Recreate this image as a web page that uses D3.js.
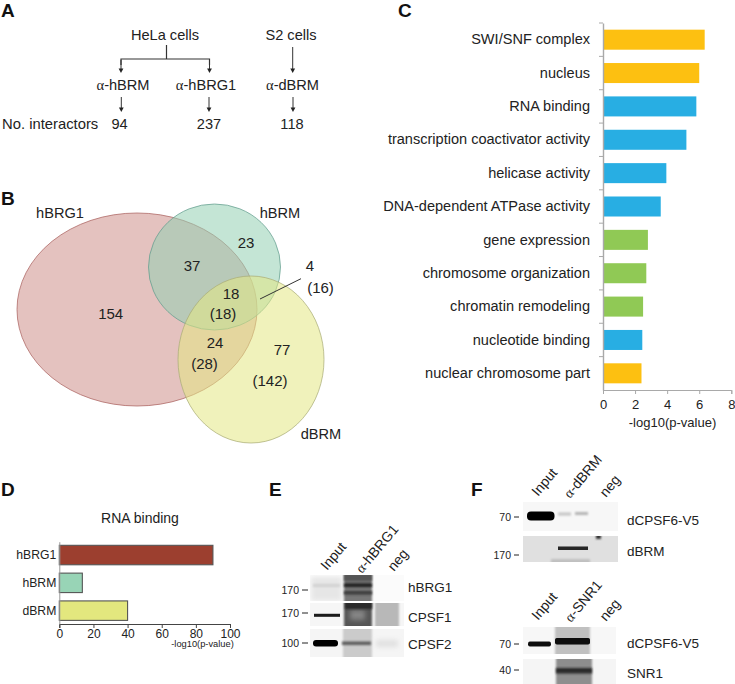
<!DOCTYPE html>
<html><head><meta charset="utf-8">
<script src="https://cdnjs.cloudflare.com/ajax/libs/d3/7.8.5/d3.min.js"></script>
<style>
html,body{margin:0;padding:0;background:#fff}
svg{display:block}
text{font-family:"Liberation Sans",Arial,sans-serif;fill:#222}
</style></head><body>
<svg id="c" width="735" height="684"></svg>
<script>
// ---- data ----
const cellLines = ["HeLa cells", "S2 cells"];
const antibodies = ["hBRM", "hBRG1", "dBRM"];
const interactors = [94, 237, 118];
const vennSets = ["hBRG1", "hBRM", "dBRM"];
const vennCounts = ["154", "37", "23", "18", "(18)", "24", "(28)", "77", "(142)", "4", "(16)"];
const goTerms = ["SWI/SNF complex","nucleus","RNA binding","transcription coactivator activity","helicase activity","DNA-dependent ATPase activity","gene expression","chromosome organization","chromatin remodeling","nucleotide binding","nuclear chromosome part"];
const goValues = [6.34,6.0,5.82,5.2,3.95,3.6,2.8,2.7,2.5,2.45,2.4];
const goClass = ["cc","cc","mf","mf","mf","mf","bp","bp","bp","mf","cc"];
const goTicks = [0,2,4,6,8];
const rnaSets = ["hBRG1","hBRM","dBRM"];
const rnaValues = [90,13.5,40];
const rnaTicks = [0,20,40,60,80,100];
const blotLanesE = ["Input","α-hBRG1","neg"];
const blotLanesF1 = ["Input","α-dBRM","neg"];
const blotLanesF2 = ["Input","α-SNR1","neg"];

// ---- helpers ----
const svg = d3.select("#c");
const defs = svg.append("defs");
[[0.7,"b06"],[1.3,"b1"],[2.5,"b2"]].forEach(([s,id])=>defs.append("filter").attr("id",id)
  .attr("x","-30%").attr("y","-100%").attr("width","160%").attr("height","300%")
  .append("feGaussianBlur").attr("stdDeviation",s));
function T(x,y,s,o={}){
  const t=svg.append("text").attr("x",x).attr("y",y).attr("font-size",o.size||14.6)
    .attr("text-anchor",o.a||"start").text(s);
  if(o.bold)t.attr("font-weight","bold").style("fill","#111");
  if(o.rot)t.attr("transform",`rotate(${o.rot} ${x} ${y})`);
  return t;
}
function AB(x,y,name,o={}){ // antibody label with a serif alpha
  const t=svg.append("text").attr("x",x).attr("y",y).attr("font-size",o.size||14.6).attr("text-anchor",o.a||"start");
  t.append("tspan").style("font-family","'Liberation Serif'").text("α");
  t.append("tspan").text(name);
  if(o.rot)t.attr("transform",`rotate(${o.rot} ${x} ${y})`);
}
function arrow(x,y0,y1){
  svg.append("line").attr("x1",x).attr("x2",x).attr("y1",y0).attr("y2",y1-3).attr("stroke","#333").attr("stroke-width",1);
  svg.append("path").attr("d",`M${x-2.4},${y1-4.5}L${x+2.4},${y1-4.5}L${x},${y1}Z`).attr("fill","#222");
}

// ---- panel letters ----
[["A",1,17],["B",1,205],["C",398,17],["D",1,496],["E",269,496],["F",471,496]].forEach(d=>T(d[1],d[2],d[0],{size:19,bold:true}));

// ---- A ----
T(165,40,cellLines[0],{a:"middle"});
T(291,40,cellLines[1],{a:"middle"});
svg.append("path").attr("d","M166.5,45V59M121,65V59H209.5V65").attr("fill","none").attr("stroke","#333").attr("stroke-width",1.2);
arrow(121,60,73);arrow(209.5,60,73);arrow(292.7,47,73);
[123,206,292.5].forEach((x,i)=>AB(x,90,"-"+antibodies[i],{a:"middle"}));
arrow(121.3,97,112);arrow(209,97,112);arrow(293,97,112);
T(2,129,"No. interactors",{size:14.8});
[119.5,209,292].forEach((x,i)=>T(x,129,interactors[i],{a:"middle"}));

// ---- B ----
const venn = svg.append("g");
const vennColors={hBRG1:["#cd8f8b","#a85f5c"],hBRM:["#93d0b2","#5f9a8c"],dBRM:["#e3e884","#a9ab77"]};
const vennGeo={hBRG1:[137,309.5,120,96.5],hBRM:[214.5,267,66,63],dBRM:[251,359.5,73,83.5]};
vennSets.forEach(k=>{
  const g=vennGeo[k];
  venn.append("ellipse").attr("cx",g[0]).attr("cy",g[1]).attr("rx",g[2]).attr("ry",g[3])
    .attr("fill",vennColors[k][0]).attr("fill-opacity",0.55)
    .attr("stroke",vennColors[k][1]).attr("stroke-opacity",0.8).attr("stroke-width",0.9);
});
T(60,218,vennSets[0],{a:"middle"});
T(280,218,vennSets[1],{a:"middle"});
T(321,439,vennSets[2],{a:"middle"});
[[110.7,319],[192,271],[246,248],[231,299],[223,319],[215,348],[204.5,369],[282,355],[270,386],[310,271],[320.5,293]]
  .forEach((p,i)=>T(p[0],p[1],vennCounts[i],{a:"middle",size:15}));
svg.append("line").attr("x1",260).attr("y1",299).attr("x2",301).attr("y2",278.7).attr("stroke","#333").attr("stroke-width",1);

// ---- C ----
const gx = d3.scaleLinear().domain([0,8]).range([603,731.3]);
const gy = d3.scaleBand().domain(goTerms).range([23,390]).paddingInner(0.4).paddingOuter(0.2);
const goFill={cc:"#fdc011",mf:"#28aee3",bp:"#90c955"};
const gBand = d3.scaleBand().domain(goTerms).range([23,390]);
svg.selectAll(".go").data(goTerms).join("rect").attr("x",gx(0)).attr("y",d=>gy(d)).attr("width",(d,i)=>gx(goValues[i])-gx(0))
  .attr("height",gy.bandwidth()).attr("fill",(d,i)=>goFill[goClass[i]]);
const gAxX=svg.append("g").attr("transform","translate(0,390)").call(d3.axisBottom(gx).tickValues(goTicks).tickSize(4).tickPadding(6));
gAxX.selectAll("text").attr("font-size",13);
gAxX.selectAll(".domain,line").attr("stroke","#a9a9a9").attr("stroke-width",1);
gAxX.selectAll("text").style("font-family","'Liberation Sans'").style("fill","#222");
const gAxY=svg.append("g").attr("transform","translate(603,0)").call(d3.axisLeft(gBand).tickSize(0).tickPadding(13));
gAxY.selectAll("text").attr("font-size",14.55).style("font-family","'Liberation Sans'").style("fill","#222");
gAxY.selectAll(".domain").attr("stroke","#a9a9a9").attr("stroke-width",1.4);
gBand.domain().forEach(d=>svg.append("line").attr("x1",599).attr("x2",603).attr("y1",gBand(d)).attr("y2",gBand(d)).attr("stroke","#a9a9a9"));
T(672.5,427,"-log10(p-value)",{a:"middle",size:13});

// ---- D ----
const rx = d3.scaleLinear().domain([0,100]).range([59.3,230]);
const ry = d3.scaleBand().domain(rnaSets).range([541.7,624]).paddingInner(0.3).paddingOuter(0.13);
const rnaFill=["#9c3f2f","#98d4b6","#e3e77e"];
svg.selectAll(".rna").data(rnaSets).join("rect").attr("x",rx(0)).attr("y",d=>ry(d)).attr("width",(d,i)=>rx(rnaValues[i])-rx(0))
  .attr("height",ry.bandwidth()).attr("fill",(d,i)=>rnaFill[i]).attr("stroke","#555").attr("stroke-width",1.1);
const rAxX=svg.append("g").attr("transform","translate(0,624)").call(d3.axisBottom(rx).tickValues(rnaTicks).tickSize(4).tickPadding(1));
rAxX.selectAll("text").attr("font-size",12).style("font-family","'Liberation Sans'").style("fill","#222");
rAxX.selectAll(".domain,line").attr("stroke","#444");
const rAxY=svg.append("g").attr("transform","translate(59.3,0)").call(d3.axisLeft(ry).tickSize(0).tickPadding(3));
rAxY.selectAll("text").attr("font-size",12.2).style("font-family","'Liberation Sans'").style("fill","#222");
rAxY.selectAll(".domain").attr("stroke","#999");
T(140,523,"RNA binding",{a:"middle",size:14});
T(202.5,647,"-log10(p-value)",{a:"middle",size:9.3});

// ---- blots ----
let clipN=0;
function blot(x0,x1,y0,y1,bgGray,bands){
  const id="clip"+(clipN++);
  defs.append("clipPath").attr("id",id).append("rect").attr("x",x0).attr("y",y0).attr("width",x1-x0).attr("height",y1-y0);
  const g=svg.append("g").attr("clip-path",`url(#${id})`);
  g.append("rect").attr("x",x0).attr("y",y0).attr("width",x1-x0).attr("height",y1-y0).attr("fill",bgGray);
  bands.forEach(b=>g.append("rect").attr("x",b.x0).attr("y",b.y0).attr("width",b.x1-b.x0).attr("height",b.y1-b.y0)
    .attr("rx",b.r||0).attr("ry",b.r||0).attr("fill",b.c).attr("filter",`url(#${b.f||"b1"})`));
}
// E
blot(310,404,575,601,"#fbfbfb",[
 {x0:311,x1:342,y0:577,y1:601,c:"#e6e6e6",f:"b2"},
 {x0:313,x1:340,y0:584,y1:587,c:"#d2d2d2",f:"b1"},
 {x0:344,x1:372,y0:570,y1:606,c:"#777",f:"b1"},
 {x0:344,x1:372,y0:574,y1:581,c:"#555",f:"b1"},
 {x0:344,x1:372,y0:583.5,y1:587,c:"#1a1a1a",f:"b1"},
 {x0:344,x1:372,y0:591,y1:594.5,c:"#3a3a3a",f:"b1"}]);
blot(310,404,603,626,"#f6f6f6",[
 {x0:314,x1:340,y0:613.8,y1:616.8,c:"#1c1c1c",f:"b06"},
 {x0:344,x1:372,y0:598,y1:631,c:"#555",f:"b1"},
 {x0:350,x1:365,y0:610,y1:620,c:"#858585",f:"b2"},
 {x0:345,x1:372,y0:600,y1:609,c:"#2c2c2c",f:"b1"},
 {x0:375,x1:399,y0:601,y1:629,c:"#b8b8b8",f:"b1"}]);
blot(310,404,629,657,"#f5f5f5",[
 {x0:343,x1:372,y0:625,y1:661,c:"#cbcbcb",f:"b1"},
 {x0:313,x1:338,y0:640,y1:646.5,c:"#000",r:3,f:"b06"},
 {x0:342,x1:371,y0:641.5,y1:645,c:"#5c5c5c",f:"b1"},
 {x0:376,x1:398,y0:640,y1:647,c:"#e0e0e0",f:"b2"}]);
// F top
blot(523,618,502,531,"#f7f7f7",[
 {x0:527,x1:554.5,y0:511.5,y1:520.5,c:"#000",r:4,f:"b06"},
 {x0:558,x1:571,y0:512.5,y1:515.5,c:"#c4c4c4",f:"b1"},
 {x0:575,x1:588,y0:512,y1:515,c:"#b4b4b4",f:"b1"}]);
blot(523,618,536,562,"#e0e0e0",[
 {x0:558,x1:588,y0:546.5,y1:550,c:"#262626",f:"b06"},
 {x0:596,x1:601,y0:534,y1:539,c:"#333",f:"b1"},
 {x0:551,x1:590,y0:559,y1:564,c:"#c0c0c0",f:"b1"}]);
// F bottom
blot(523,616,627,654,"#f7f7f7",[
 {x0:555,x1:590,y0:622,y1:659,c:"#c0c0c0",f:"b1"},
 {x0:528,x1:551,y0:641.5,y1:646.5,c:"#111",r:2,f:"b06"},
 {x0:555,x1:590,y0:638,y1:644.5,c:"#080808",r:2,f:"b06"}]);
blot(523,616,659,684,"#f5f5f5",[
 {x0:556,x1:592,y0:654,y1:690,c:"#8e8e8e",f:"b1"},
 {x0:556,x1:592,y0:668,y1:673.5,c:"#2a2a2a",f:"b1"}]);

// blot labels
const LS=14;
[[327,571],[362,574],[394,572]].forEach((p,i)=> i===1
  ? AB(p[0],p[1],"-hBRG1",{rot:-50,size:LS}) : T(p[0],p[1],blotLanesE[i],{rot:-50,size:LS}));
[[538,497],[570,499],[606,498]].forEach((p,i)=> i===1
  ? AB(p[0],p[1],"-dBRM",{rot:-50,size:LS}) : T(p[0],p[1],blotLanesF1[i],{rot:-50,size:LS}));
[[538,621],[571,623],[606,622]].forEach((p,i)=> i===1
  ? AB(p[0],p[1],"-SNR1",{rot:-50,size:LS}) : T(p[0],p[1],blotLanesF2[i],{rot:-50,size:LS}));
[["hBRG1",408,592],["CPSF1",408,622],["CPSF2",408,649],["dCPSF6-V5",627,525],["dBRM",627,556],["dCPSF6-V5",627,648],["SNR1",627,678]]
  .forEach(d=>T(d[1],d[2],d[0],{size:13.5}));
[["170",590],["170",613],["100",643]].forEach(d=>{T(299,d[1]+4,d[0],{a:"end",size:10.5});svg.append("line").attr("x1",302).attr("x2",308).attr("y1",d[1]).attr("y2",d[1]).attr("stroke","#222")});
[["70",517],["170",555],["70",644],["40",670]].forEach(d=>{T(511,d[1]+4,d[0],{a:"end",size:10.5});svg.append("line").attr("x1",514).attr("x2",519).attr("y1",d[1]).attr("y2",d[1]).attr("stroke","#222")});
</script></body></html>
